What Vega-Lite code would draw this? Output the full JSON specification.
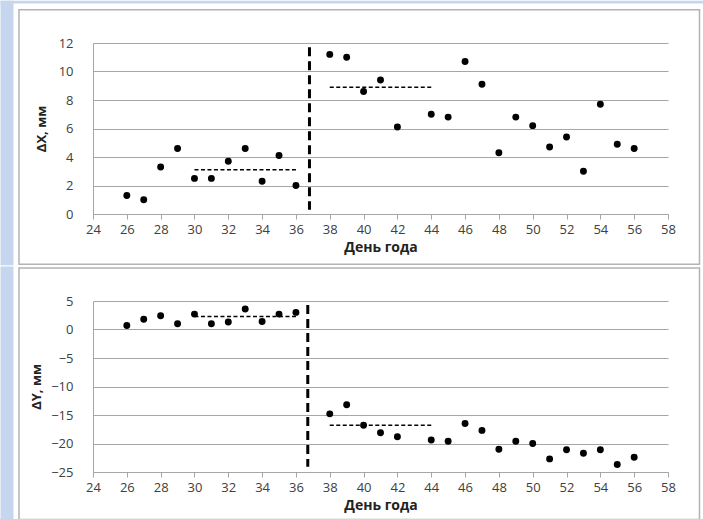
{
  "$schema": "https://vega.github.io/schema/vega-lite/v6.json",
  "background": "white",
  "padding": 0,
  "autosize": {"type": "pad"},
  "spacing": 0,
  "bounds": "full",
  "datasets": {
    "pts": [
      {"day": 26, "dx": 1.3, "dy": 0.7},
      {"day": 27, "dx": 1.0, "dy": 1.8},
      {"day": 28, "dx": 3.3, "dy": 2.4},
      {"day": 29, "dx": 4.6, "dy": 1.0},
      {"day": 30, "dx": 2.5, "dy": 2.7},
      {"day": 31, "dx": 2.5, "dy": 1.0},
      {"day": 32, "dx": 3.7, "dy": 1.3},
      {"day": 33, "dx": 4.6, "dy": 3.6},
      {"day": 34, "dx": 2.3, "dy": 1.4},
      {"day": 35, "dx": 4.1, "dy": 2.7},
      {"day": 36, "dx": 2.0, "dy": 3.0},
      {"day": 38, "dx": 11.2, "dy": -14.8},
      {"day": 39, "dx": 11.0, "dy": -13.2},
      {"day": 40, "dx": 8.6, "dy": -16.8},
      {"day": 41, "dx": 9.4, "dy": -18.1},
      {"day": 42, "dx": 6.1, "dy": -18.8},
      {"day": 44, "dx": 7.0, "dy": -19.4},
      {"day": 45, "dx": 6.8, "dy": -19.6},
      {"day": 46, "dx": 10.7, "dy": -16.5},
      {"day": 47, "dx": 9.1, "dy": -17.7},
      {"day": 48, "dx": 4.3, "dy": -21.0},
      {"day": 49, "dx": 6.8, "dy": -19.6},
      {"day": 50, "dx": 6.2, "dy": -20.0},
      {"day": 51, "dx": 4.7, "dy": -22.7},
      {"day": 52, "dx": 5.4, "dy": -21.1},
      {"day": 53, "dx": 3.0, "dy": -21.7},
      {"day": 54, "dx": 7.7, "dy": -21.1},
      {"day": 55, "dx": 4.9, "dy": -23.7},
      {"day": 56, "dx": 4.6, "dy": -22.4}
    ],
    "meanX": [
      {"start": 30, "end": 36, "level": 3.1},
      {"start": 38, "end": 44, "level": 8.9}
    ],
    "meanY": [
      {"start": 30, "end": 36, "level": 2.3},
      {"start": 38, "end": 44, "level": -16.8}
    ],
    "breakX": [{"day": 36.8, "top": 11.7, "bottom": 0.3}],
    "breakY": [{"day": 36.7, "top": 4.3, "bottom": -24.1}]
  },
  "vconcat": [
    {
      "width": 575,
      "height": 171,
      "encoding": {
        "x": {"type": "quantitative", "scale": {"domain": [24, 58], "nice": false, "zero": false},
          "axis": {"title": "День года", "values": [24, 26, 28, 30, 32, 34, 36, 38, 40, 42, 44, 46, 48, 50, 52, 54, 56, 58], "grid": false, "ticks": true, "tickSize": 5, "labelPadding": 4, "titlePadding": 4, "titleFontSize": 14}},
        "y": {"type": "quantitative", "scale": {"domain": [0, 12], "nice": false, "zero": false},
          "axis": {"title": "ΔX, мм", "values": [0, 2, 4, 6, 8, 10, 12], "grid": true, "ticks": false, "labelPadding": 20, "titleX": -45, "titleY": 85.5, "titleAngle": -90, "titleAlign": "center", "titleBaseline": "bottom"}}
      },
      "layer": [
        {
          "data": {"values": [{}]},
          "mark": {"type": "rect", "fill": "#c6d6ee"},
          "encoding": {"x": {"datum": 18.53}, "x2": {"datum": 19.299}, "y": {"datum": 14.96}, "y2": {"datum": -3.59}}
        },
        {
          "data": {"values": [{}]},
          "mark": {"type": "rect", "fill": "#c6d6ee"},
          "encoding": {"x": {"datum": 18.53}, "x2": {"datum": 60.07}, "y": {"datum": 14.96}, "y2": {"datum": 14.77}}
        },
        {
          "data": {"values": [{}]},
          "mark": {"type": "rect", "filled": false, "stroke": "#b3b3b3", "strokeWidth": 1.5},
          "encoding": {"x": {"datum": 19.624}, "x2": {"datum": 59.862}, "y": {"datum": 14.33}, "y2": {"datum": -3.52}}
        },
        {
          "data": {"name": "meanX"},
          "mark": {"type": "rule", "color": "black", "strokeWidth": 1.5, "strokeDash": [4, 2.5]},
          "encoding": {"x": {"field": "start"}, "x2": {"field": "end"}, "y": {"field": "level"}}
        },
        {
          "data": {"name": "breakX"},
          "mark": {"type": "rule", "color": "black", "strokeWidth": 3, "strokeDash": [9, 5]},
          "encoding": {"x": {"field": "day"}, "y": {"field": "top"}, "y2": {"field": "bottom"}}
        },
        {
          "data": {"name": "pts"},
          "mark": {"type": "circle", "color": "black", "opacity": 1, "size": 48},
          "encoding": {"x": {"field": "day"}, "y": {"field": "dx"}}
        }
      ]
    },
    {
      "width": 575,
      "height": 171,
      "encoding": {
        "x": {"type": "quantitative", "scale": {"domain": [24, 58], "nice": false, "zero": false},
          "axis": {"title": "День года", "values": [24, 26, 28, 30, 32, 34, 36, 38, 40, 42, 44, 46, 48, 50, 52, 54, 56, 58], "grid": false, "ticks": true, "tickSize": 5, "labelPadding": 4, "titlePadding": 4, "titleFontSize": 14}},
        "y": {"type": "quantitative", "scale": {"domain": [-25, 5], "nice": false, "zero": false},
          "axis": {"title": "ΔY, мм", "values": [-25, -20, -15, -10, -5, 0, 5], "grid": true, "ticks": false, "labelPadding": 20, "titleX": -50, "titleY": 85.5, "titleAngle": -90, "titleAlign": "center", "titleBaseline": "bottom"}}
      },
      "layer": [
        {
          "data": {"values": [{}]},
          "mark": {"type": "rect", "fill": "#c6d6ee"},
          "encoding": {"x": {"datum": 18.53}, "x2": {"datum": 19.299}, "y": {"datum": 11.053}, "y2": {"datum": -33.509}}
        },
        {
          "data": {"values": [{}]},
          "mark": {"type": "rect", "filled": false, "stroke": "#b3b3b3", "strokeWidth": 1.5},
          "encoding": {"x": {"datum": 19.624}, "x2": {"datum": 59.862}, "y": {"datum": 10.789}, "y2": {"datum": -33.333}}
        },
        {
          "data": {"name": "meanY"},
          "mark": {"type": "rule", "color": "black", "strokeWidth": 1.5, "strokeDash": [4, 2.5]},
          "encoding": {"x": {"field": "start"}, "x2": {"field": "end"}, "y": {"field": "level"}}
        },
        {
          "data": {"name": "breakY"},
          "mark": {"type": "rule", "color": "black", "strokeWidth": 3, "strokeDash": [9, 5]},
          "encoding": {"x": {"field": "day"}, "y": {"field": "top"}, "y2": {"field": "bottom"}}
        },
        {
          "data": {"name": "pts"},
          "mark": {"type": "circle", "color": "black", "opacity": 1, "size": 48},
          "encoding": {"x": {"field": "day"}, "y": {"field": "dy"}}
        }
      ]
    }
  ],
  "config": {
    "view": {"stroke": null},
    "axis": {
      "labelFont": "Open Sans",
      "labelFontSize": 13,
      "labelColor": "#404040",
      "labelFlush": false,
      "labelOverlap": false,
      "titleFont": "Open Sans",
      "titleFontSize": 13,
      "titleFontWeight": "bold",
      "titleColor": "#222222",
      "domainColor": "#a6a6a6",
      "gridColor": "#a6a6a6",
      "tickColor": "#a6a6a6"
    }
  }
}
